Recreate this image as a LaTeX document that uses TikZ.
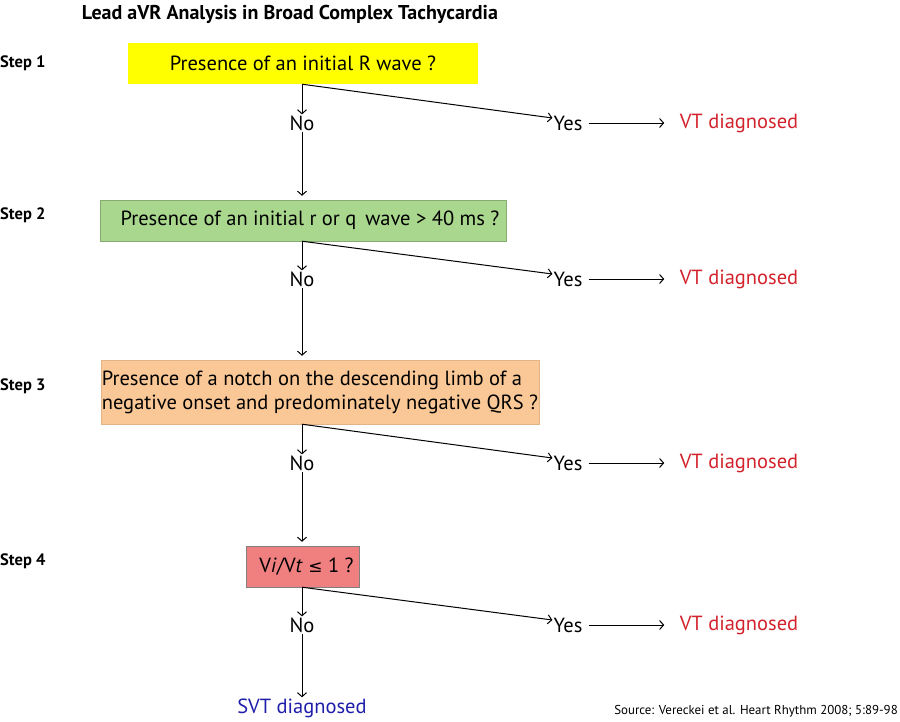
\documentclass[tikz,border=0pt]{standalone}
\usepackage{fontspec}
\setmainfont{PT Sans}
\newfontfamily\symfont{DejaVu Sans}
\usepackage{tikz}
\definecolor{boxyellow}{RGB}{255,255,0}
\definecolor{boxgreen}{RGB}{169,215,142}
\definecolor{boxorange}{RGB}{250,200,150}
\definecolor{boxpink}{RGB}{240,128,128}
\definecolor{vtred}{RGB}{210,35,45}
\definecolor{svtblue}{RGB}{30,30,170}
\tikzset{
    question/.style={minimum height=41pt, inner sep=0pt, font=\fontsize{20.5}{24}\selectfont},
    answer/.style={font=\fontsize{20.5}{24}\selectfont, inner sep=1pt},
    verdict/.style={font=\fontsize{20.5}{24}\selectfont, text=vtred},
    steplabel/.style={font=\bfseries\fontsize{16.5}{18}\selectfont, anchor=west, inner sep=0pt},
    go/.style = {-{Straight Barb[length=4pt, width=9pt]}, line width=1pt},
    branch/.style = {-{Straight Barb[length=4pt, width=9pt]}, line width=1pt} }
\usetikzlibrary{positioning, arrows.meta}

\begin{document}
\begin{tikzpicture}[x=1pt, y=-1pt]
      \useasboundingbox (0,0) rectangle (900,721);
      \node[font=\bfseries\fontsize{20}{24}\selectfont] (title) at (290,14) {Lead aVR Analysis in Broad Complex Tachycardia};
      \node[steplabel] (s1) at (0,63) {Step 1};
      \node[steplabel] (s2) at (0,215) {Step 2};
      \node[steplabel] (s3) at (0,386) {Step 3};
      \node[steplabel] (s4) at (0,561) {Step 4};
      % ----
      \node[question, fill=boxyellow, minimum width=350pt] (q1) at (303,63.5) {Presence of an initial R wave ?};
      \node[question, fill=boxgreen, draw=boxgreen!80!black, minimum width=406pt] (q2) at (303,220.5) {\hspace{14pt}Presence of an initial r or q\, wave > 40 ms ?};
      \node[question, fill=boxorange, draw=boxorange!90!black, minimum width=438pt, minimum height=64pt, align=left] (q3) at (320,392) {Presence of a notch on the descending limb of a\\negative onset and predominately negative QRS ?};
      \node[question, fill=boxpink, draw=gray, minimum width=113pt] (q4) at (302.5,566.5) {\hspace{8pt}V\textit{i}/V\textit{t} {\symfont\fontsize{17}{20}\selectfont≤} 1 ?};
      % ----
      \node[answer] (no1) at (302,123) {No};
      \node[answer] (no2) at (302,279) {No};
      \node[answer] (no3) at (302,463) {No};
      \node[answer] (no4) at (302,625) {No};
      \node[answer] (yes1) at (568,123) {Yes};
      \node[answer] (yes2) at (568,279) {Yes};
      \node[answer] (yes3) at (568,463) {Yes};
      \node[answer] (yes4) at (568,625) {Yes};
      \node[verdict] (vt1) at (739,123) {VT diagnosed};
      \node[verdict] (vt2) at (739,279) {VT diagnosed};
      \node[verdict] (vt3) at (739,463) {VT diagnosed};
      \node[verdict] (vt4) at (739,625) {VT diagnosed};
      \node[answer, text=svtblue] (svt) at (302,708) {SVT diagnosed};
      \node[anchor=east, inner sep=0pt, font=\fontsize{12.9}{15}\selectfont] (src) at (898,711) {Source: Vereckei et al. Heart Rhythm 2008; 5:89-98};
      % ----
      \coordinate (b1) at (no1 |- q1.south);
      \coordinate (b2) at (no2 |- q2.south);
      \coordinate (b3) at (no3 |- q3.south);
      \coordinate (b4) at (no4 |- q4.south);
      \draw[go] (b1) -- (no1);
      \draw[go] (b2) -- (no2);
      \draw[go] (b3) -- (no3);
      \draw[go] (b4) -- (no4);
      \draw[go, shorten >=4pt] (no1) -- (no1 |- q2.north);
      \draw[go, shorten >=4pt] (no2) -- (no2 |- q3.north);
      \draw[go, shorten >=4pt] (no3) -- (no3 |- q4.north);
      \draw[go] (no4) -- (svt);
      % ----
      \draw[branch] (b1) -- ([yshift=5pt]yes1.west);
      \draw[branch] (b2) -- ([yshift=5pt]yes2.west);
      \draw[branch] (b3) -- ([yshift=5pt]yes3.west);
      \draw[branch] (b4) -- ([yshift=5pt]yes4.west);
      \draw[go, shorten <=5pt, shorten >=12pt] (yes1) -- (vt1);
      \draw[go, shorten <=5pt, shorten >=12pt] (yes2) -- (vt2);
      \draw[go, shorten <=5pt, shorten >=12pt] (yes3) -- (vt3);
      \draw[go, shorten <=5pt, shorten >=12pt] (yes4) -- (vt4);
    \end{tikzpicture}
\end{document}
